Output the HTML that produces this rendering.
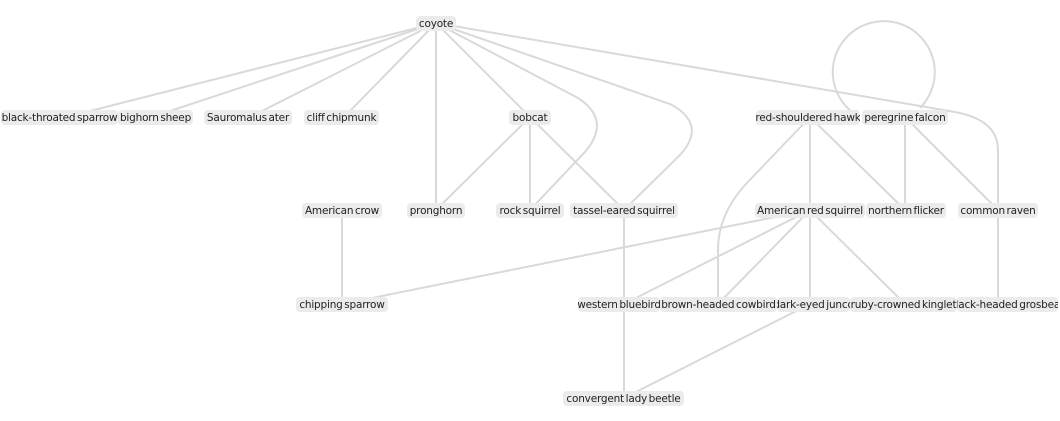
<!DOCTYPE html>
<html><head><meta charset="utf-8"><style>
body{margin:0;width:1060px;height:421px;background:#fff;position:relative;overflow:hidden;font-family:"DejaVu Sans","Liberation Sans",sans-serif;}
svg{position:absolute;left:0;top:0}
.n{position:absolute;height:15px;background:#ebebeb;border-radius:4px;display:flex;justify-content:center;align-items:center;overflow:hidden;white-space:nowrap;font-size:10.5px;color:#222;letter-spacing:-0.2px;word-spacing:-1.5px}
</style></head><body>
<svg width="1060" height="421" fill="none" stroke="#d9d9d9" stroke-width="2">
<line x1="436" y1="23" x2="90" y2="111"/>
<line x1="436" y1="23" x2="170" y2="111"/>
<line x1="436" y1="23" x2="262" y2="111"/>
<line x1="436" y1="23" x2="350" y2="111"/>
<line x1="436" y1="23" x2="436" y2="210"/>
<line x1="436" y1="23" x2="530" y2="117"/>
<path d="M436,23 L578,98 Q612,120 585,152 L530,210"/>
<path d="M436,23 L670,104 Q708,124 680,155 L624,210"/>
<path d="M436,23 L955,112 Q998,120 998,150 L998,304"/>
<line x1="530" y1="117" x2="436" y2="210"/>
<line x1="530" y1="117" x2="530" y2="210"/>
<line x1="530" y1="117" x2="624" y2="210"/>
<path d="M852,112 A51,51 0 1,1 920,108"/>
<line x1="810" y1="117" x2="810" y2="304"/>
<line x1="810" y1="117" x2="905" y2="210"/>
<path d="M810,117 L745,185 Q718,215 718,250 L718,304"/>
<line x1="905" y1="117" x2="905" y2="210"/>
<line x1="905" y1="117" x2="998" y2="210"/>
<line x1="342" y1="210" x2="342" y2="304"/>
<line x1="810" y1="210" x2="342" y2="304"/>
<line x1="810" y1="210" x2="624" y2="304"/>
<line x1="810" y1="210" x2="718" y2="304"/>
<line x1="810" y1="210" x2="905" y2="304"/>
<line x1="624" y1="210" x2="624" y2="398"/>
<line x1="810" y1="304" x2="624" y2="398"/>
</svg>
<div class="n" style="left:416px;top:16px;width:40px">coyote</div>
<div class="n" style="left:1px;top:110px;width:117px">black-throated sparrow</div>
<div class="n" style="left:118px;top:110px;width:75px">bighorn sheep</div>
<div class="n" style="left:204px;top:110px;width:88px">Sauromalus ater</div>
<div class="n" style="left:304px;top:110px;width:75px">cliff chipmunk</div>
<div class="n" style="left:509px;top:110px;width:42px">bobcat</div>
<div class="n" style="left:756px;top:110px;width:104px">red-shouldered hawk</div>
<div class="n" style="left:862px;top:110px;width:86px">peregrine falcon</div>
<div class="n" style="left:302px;top:203px;width:80px">American crow</div>
<div class="n" style="left:407px;top:203px;width:58px">pronghorn</div>
<div class="n" style="left:496px;top:203px;width:68px">rock squirrel</div>
<div class="n" style="left:570px;top:203px;width:108px">tassel-eared squirrel</div>
<div class="n" style="left:755px;top:203px;width:110px">American red squirrel</div>
<div class="n" style="left:866px;top:203px;width:80px">northern flicker</div>
<div class="n" style="left:958px;top:203px;width:80px">common raven</div>
<div class="n" style="left:296px;top:297px;width:92px">chipping sparrow</div>
<div class="n" style="left:578px;top:297px;width:82px">western bluebird</div>
<div class="n" style="left:660px;top:297px;width:117px">brown-headed cowbird</div>
<div class="n" style="left:777px;top:297px;width:73px">dark-eyed junco</div>
<div class="n" style="left:850px;top:297px;width:107px">ruby-crowned kinglet</div>
<div class="n" style="left:957px;top:297px;width:101px">black-headed grosbeak</div>
<div class="n" style="left:563px;top:391px;width:121px">convergent lady beetle</div>
</body></html>
